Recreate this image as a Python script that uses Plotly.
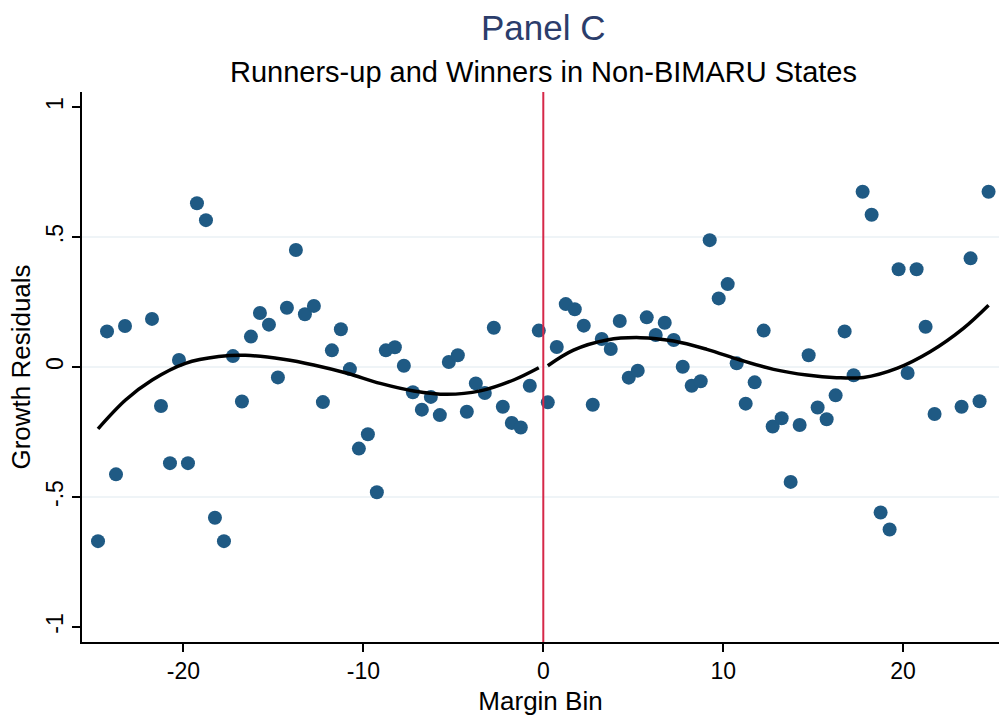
import plotly.graph_objects as go

# Binned growth residuals by vote-margin bin (bin midpoints)
left_bins = [-24.75, -24.25, -23.75, -23.25, -21.75, -21.25, -20.75, -20.25,
             -19.75, -19.25, -18.75, -18.25, -17.75, -17.25, -16.75, -16.25,
             -15.75, -15.25, -14.75, -14.25, -13.75, -13.25, -12.75, -12.25,
             -11.75, -11.25, -10.75, -10.25, -9.75, -9.25, -8.75, -8.25,
             -7.75, -7.25, -6.75, -6.25, -5.75, -5.25, -4.75, -4.25,
             -3.75, -3.25, -2.75, -2.25, -1.75, -1.25, -0.75, -0.25]
left_resid = [-0.67, 0.137, -0.413, 0.158, 0.185, -0.15, -0.37, 0.027,
              -0.37, 0.63, 0.565, -0.58, -0.67, 0.042, -0.133, 0.117,
              0.208, 0.163, -0.04, 0.228, 0.45, 0.203, 0.235, -0.135,
              0.064, 0.145, -0.008, -0.314, -0.259, -0.482, 0.064, 0.076,
              0.005, -0.097, -0.164, -0.115, -0.185, 0.019, 0.045, -0.172,
              -0.063, -0.1, 0.151, -0.153, -0.215, -0.233, -0.072, 0.14]

right_bins = [0.25, 0.75, 1.25, 1.75, 2.25, 2.75, 3.25, 3.75,
              4.25, 4.75, 5.25, 5.75, 6.25, 6.75, 7.25, 7.75,
              8.25, 8.75, 9.25, 9.75, 10.25, 10.75, 11.25, 11.75,
              12.25, 12.75, 13.25, 13.75, 14.25, 14.75, 15.25, 15.75,
              16.25, 16.75, 17.25, 17.75, 18.25, 18.75, 19.25, 19.75,
              20.25, 20.75, 21.25, 21.75, 23.25, 23.75, 24.25, 24.75]
right_resid = [-0.136, 0.077, 0.242, 0.222, 0.159, -0.145, 0.108, 0.069,
               0.177, -0.041, -0.014, 0.191, 0.123, 0.17, 0.104, 0.001,
               -0.072, -0.055, 0.488, 0.264, 0.319, 0.014, -0.141, -0.059,
               0.14, -0.229, -0.197, -0.442, -0.223, 0.045, -0.156, -0.201,
               -0.109, 0.137, -0.032, 0.674, 0.586, -0.56, -0.625, 0.376,
               -0.023, 0.376, 0.155, -0.181, -0.153, 0.418, -0.132, 0.674]

# Fitted polynomial trend on each side of the cutoff
fit_left_x = [-24.75, -23.22, -21.74, -19.89, -18.04, -16.56, -14.45,
              -12.76, -10.9, -9.06, -7.2, -5.35, -3.5, -1.65, -0.25]
fit_left_y = [-0.238, -0.127, -0.05, 0.014, 0.04, 0.045, 0.03,
              0.008, -0.024, -0.063, -0.092, -0.105, -0.092, -0.05, -0.003]
fit_right_x = [0.25, 1.68, 3.54, 5.39, 7.24, 9.09, 10.94, 12.8,
               14.65, 16.3, 17.8, 19.65, 21.5, 23.35, 24.75]
fit_right_y = [0.005, 0.065, 0.104, 0.113, 0.1, 0.068, 0.027, -0.009,
               -0.031, -0.041, -0.04, -0.005, 0.059, 0.149, 0.238]

x_ticks = [-20, -10, 0, 10, 20]
x_tick_labels = ["-20", "-10", "0", "10", "20"]
y_ticks = [-1, -0.5, 0, 0.5, 1]
y_tick_labels = ["-1", "-.5", "0", ".5", "1"]
y_grid = [-0.5, 0, 0.5]

MARKER_COLOR = "#1f5a84"
FONT = "Liberation Sans, Arial, Helvetica, sans-serif"

fig = go.Figure()

for xs, ys in [(left_bins, left_resid), (right_bins, right_resid)]:
    fig.add_trace(go.Scatter(
        x=xs, y=ys, mode="markers",
        marker=dict(size=14, color=MARKER_COLOR, line=dict(width=0)),
        showlegend=False, hoverinfo="x+y",
    ))

for xs, ys in [(fit_left_x, fit_left_y), (fit_right_x, fit_right_y)]:
    fig.add_trace(go.Scatter(
        x=xs, y=ys, mode="lines",
        line=dict(color="black", width=3.5, shape="spline", smoothing=1.0),
        showlegend=False, hoverinfo="skip",
    ))

# Cutoff at zero margin
fig.add_shape(type="line", x0=0, x1=0, xref="x", y0=0, y1=1, yref="paper",
              line=dict(color="#d62848", width=2), layer="above")

# Horizontal grid lines (none at the outermost ticks)
for yv in y_grid:
    fig.add_shape(type="line", xref="paper", x0=0, x1=1, yref="y", y0=yv, y1=yv,
                  line=dict(color="#eaf0f4", width=1.5), layer="below")

fig.add_annotation(text="Panel C", x=0, xref="x", y=1.118, yref="paper",
                   yanchor="middle", showarrow=False,
                   font=dict(family=FONT, size=35, color="#2b3d6b"))
fig.add_annotation(text="Runners-up and Winners in Non-BIMARU States",
                   x=0, xref="x", y=1.036, yref="paper",
                   yanchor="middle", showarrow=False,
                   font=dict(family=FONT, size=29, color="black"))

fig.update_layout(
    width=999, height=717,
    margin=dict(l=82, r=0, t=92, b=75),
    paper_bgcolor="white", plot_bgcolor="white",
    font=dict(family=FONT, size=23, color="black"),
    xaxis=dict(
        range=[-25.64, 25.33],
        tickvals=x_ticks, ticktext=x_tick_labels,
        ticks="outside", ticklen=8, tickwidth=1.5, tickcolor="black",
        showline=True, linecolor="black", linewidth=1.5,
        showgrid=False, zeroline=False,
        title=dict(text="Margin Bin", font=dict(size=26), standoff=8),
        tickfont=dict(size=23),
    ),
    yaxis=dict(
        range=[-1.058, 1.058],
        tickvals=y_ticks, ticktext=y_tick_labels, tickangle=-90,
        ticks="outside", ticklen=8, tickwidth=1.5, tickcolor="black",
        showline=True, linecolor="black", linewidth=1.5,
        showgrid=False, zeroline=False,
        title=dict(text="Growth Residuals", font=dict(size=26), standoff=4),
        tickfont=dict(size=23),
    ),
)

fig.write_html("out.html")
